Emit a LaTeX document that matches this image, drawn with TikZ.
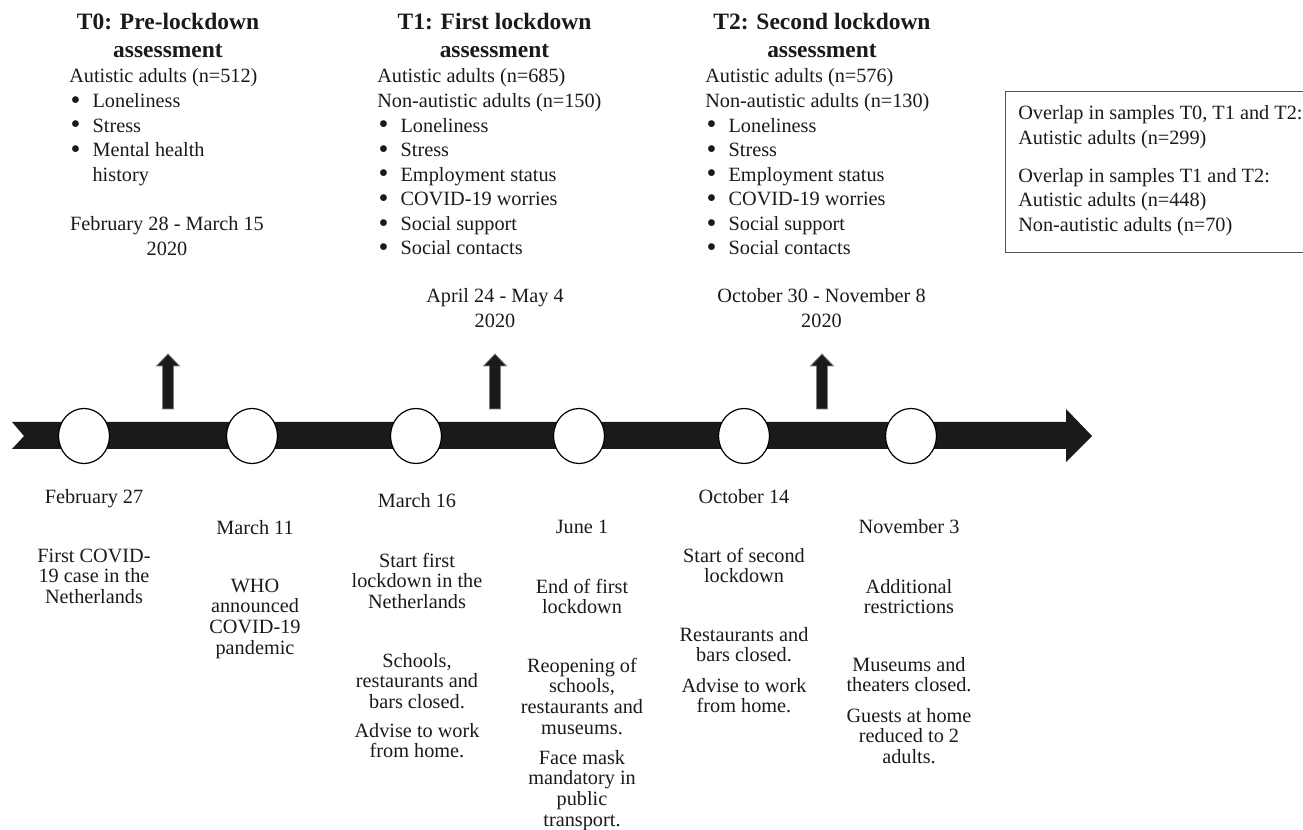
\documentclass[tikz,border=0pt]{standalone}
\usepackage{fontspec}
\setmainfont{Liberation Serif}
\usetikzlibrary{shapes.geometric}
\definecolor{ink}{HTML}{1A1A1A}
\definecolor{boxline}{HTML}{555555}
\newcommand{\ctab}[1]{\begin{tabular}[t]{@{}c@{}}#1\end{tabular}}
\newcommand{\ltab}[1]{\begin{tabular}[t]{@{}l@{}}#1\end{tabular}}
\newcommand{\bul}{\makebox[17.5pt][l]{\hspace{1pt}\raisebox{-1.4pt}{\scalebox{1.4}{\textbullet}}}}
\newcommand{\ind}{\hspace{17.5pt}}
\tikzset{
  titletext/.style={anchor=base, inner sep=0, text=ink, font=\fontsize{17.6}{21}\selectfont\bfseries},
  bodytext/.style={anchor=base west, inner sep=0, text=ink, font=\fontsize{15.2}{18.4}\selectfont},
  datetext/.style={anchor=base, inner sep=0, text=ink, font=\fontsize{15.2}{18.2}\selectfont},
  evtext/.style={anchor=base, inner sep=0, text=ink, font=\fontsize{15.2}{15.5}\selectfont},
  dot/.style={ellipse, draw=black, line width=0.9pt, fill=white, minimum width=38.25pt, minimum height=41.25pt, inner sep=0},
  uparrow/.pic={\filldraw[fill=ink, draw=black!50, line width=0.6pt] (-5.5,0) -- (-5.5,-43) -- (-11.5,-43) -- (0,-55) -- (11.5,-43) -- (5.5,-43) -- (5.5,0) -- cycle;}
}
\begin{document}
\begin{tikzpicture}[x=0.75pt, y=-0.75pt]
\useasboundingbox (0,0) rectangle (1303,830);
\clip (0,0) rectangle (1303,830);

% timeline band
\fill[ink] (12,422) -- (1066,422) -- (1066,409) -- (1092,436) -- (1066,462) -- (1066,449) -- (12,449) -- (24,436) -- cycle;

% event dots
\node[dot] (c1) at (84,436) {};
\node[dot] (c2) at (252,436) {};
\node[dot] (c3) at (416,436) {};
\node[dot] (c4) at (579,436) {};
\node[dot] (c5) at (744,436) {};
\node[dot] (c6) at (911,436) {};

% assessment arrows
\pic at (168,409) {uparrow};
\pic at (495,409) {uparrow};
\pic at (822,409) {uparrow};

% T0
\node[titletext] (t0title) at (168,30) {\ctab{T0: Pre-lockdown\\assessment}};
\node[bodytext] (t0list) at (69,83) {\ltab{Autistic adults (n=512)\\ \bul Loneliness\\ \bul Stress\\ \bul Mental health\\ \ind history}};
\node[datetext] (t0date) at (167,231) {\ctab{February 28 - March 15\\2020}};

% T1
\node[titletext] (t1title) at (494.5,30) {\ctab{T1: First lockdown\\assessment}};
\node[bodytext] (t1list) at (377,83) {\ltab{Autistic adults (n=685)\\ Non-autistic adults (n=150)\\ \bul Loneliness\\ \bul Stress\\ \bul Employment status\\ \bul COVID-19 worries\\ \bul Social support\\ \bul Social contacts}};
\node[datetext] (t1date) at (495,303) {\ctab{April 24 - May 4\\2020}};

% T2
\node[titletext] (t2title) at (822,30) {\ctab{T2: Second lockdown\\assessment}};
\node[bodytext] (t2list) at (705,83) {\ltab{Autistic adults (n=576)\\ Non-autistic adults (n=130)\\ \bul Loneliness\\ \bul Stress\\ \bul Employment status\\ \bul COVID-19 worries\\ \bul Social support\\ \bul Social contacts}};
\node[datetext] (t2date) at (821.5,303) {\ctab{October 30 - November 8\\2020}};

% overlap box
\node[draw=boxline, line width=0.75pt, anchor=north west, minimum width=236.25pt, minimum height=120.75pt, inner sep=0] (ovbox) at (1005,91) {};
\node[bodytext] (ovtext) at (1018,120) {\ltab{Overlap in samples T0, T1 and T2:\\ Autistic adults (n=299)\\[10pt] Overlap in samples T1 and T2:\\ Autistic adults (n=448)\\ Non-autistic adults (n=70)}};

% event labels
\node[evtext] (e1d) at (94,503) {February 27};
\node[evtext] (e1a) at (94,562) {\ctab{First COVID-\\19 case in the\\Netherlands}};

\node[evtext] (e2d) at (255,534) {March 11};
\node[evtext] (e2a) at (255,592) {\ctab{WHO\\announced\\COVID-19\\pandemic}};

\node[evtext] (e3d) at (417,507) {March 16};
\node[evtext] (e3a) at (417,567) {\ctab{Start first\\lockdown in the\\Netherlands}};
\node[evtext] (e3b) at (417,667) {\ctab{Schools,\\restaurants and\\bars closed.}};
\node[evtext] (e3c) at (417,737) {\ctab{Advise to work\\from home.}};

\node[evtext] (e4d) at (582,533) {June 1};
\node[evtext] (e4a) at (582,593) {\ctab{End of first\\lockdown}};
\node[evtext] (e4b) at (582,672) {\ctab{Reopening of\\schools,\\restaurants and\\museums.}};
\node[evtext] (e4c) at (582,764) {\ctab{Face mask\\mandatory in\\public\\transport.}};

\node[evtext] (e5d) at (744,503) {October 14};
\node[evtext] (e5a) at (744,562) {\ctab{Start of second\\lockdown}};
\node[evtext] (e5b) at (744,641) {\ctab{Restaurants and\\bars closed.}};
\node[evtext] (e5c) at (744,692) {\ctab{Advise to work\\from home.}};

\node[evtext] (e6d) at (909,533) {November 3};
\node[evtext] (e6a) at (909,593) {\ctab{Additional\\restrictions}};
\node[evtext] (e6b) at (909,671) {\ctab{Museums and\\theaters closed.}};
\node[evtext] (e6c) at (909,722) {\ctab{Guests at home\\reduced to 2\\adults.}};
\end{tikzpicture}
\end{document}
